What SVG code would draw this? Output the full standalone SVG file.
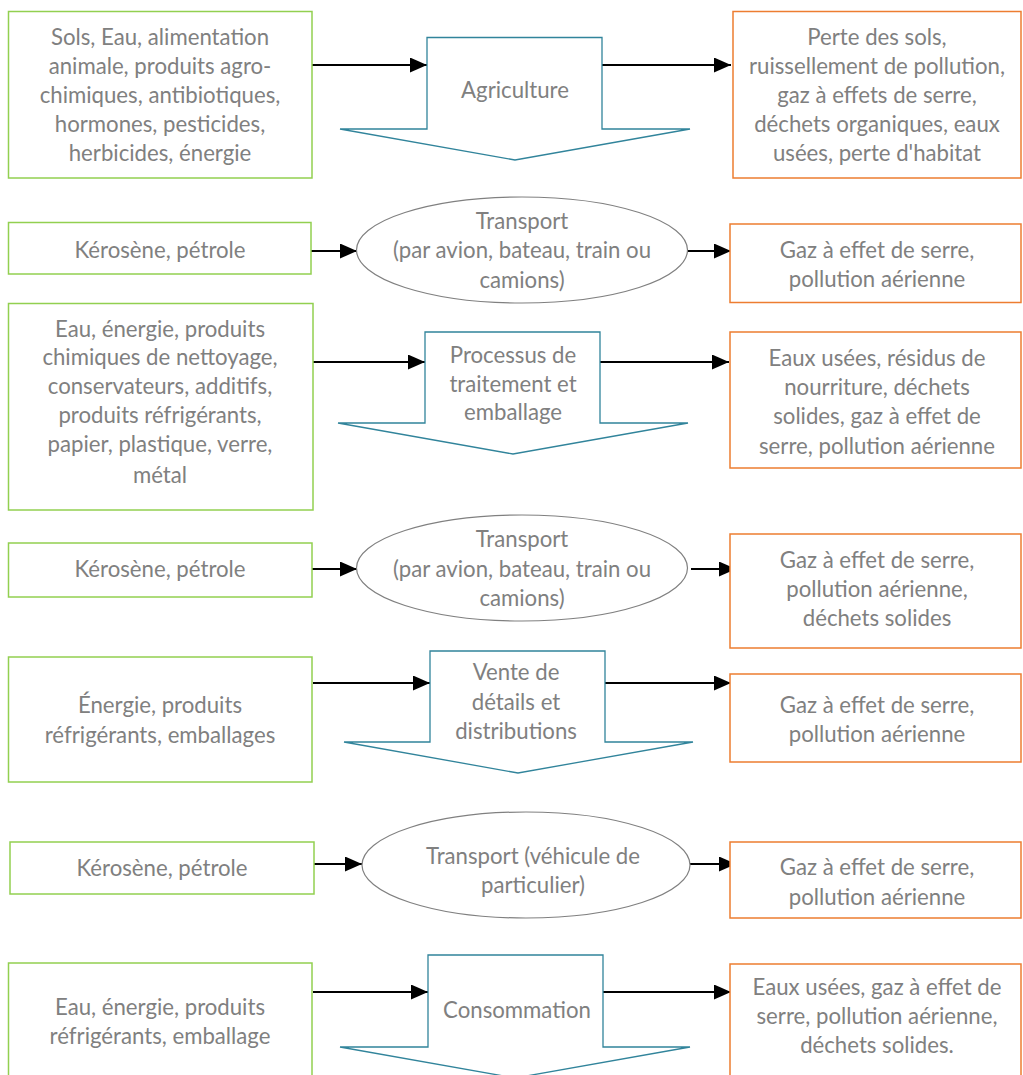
<svg xmlns="http://www.w3.org/2000/svg" width="1023" height="1075" viewBox="0 0 1023 1075">
<defs>
<marker id="ah" markerUnits="userSpaceOnUse" markerWidth="18" markerHeight="16" refX="17" refY="7.5" orient="auto">
<path d="M0,0 L17,7.5 L0,15 Z" fill="#000"/>
</marker>
<style>
.in{fill:#fff;stroke:#92d050;stroke-width:1.5}
.out{fill:#fff;stroke:#ed7d31;stroke-width:1.5}
.proc{fill:#fff;stroke:#31849b;stroke-width:1.3}
.ell{fill:#fff;stroke:#808080;stroke-width:1.2}
.t{font-family:Lato,"Open Sans","Liberation Sans",sans-serif;font-size:22.2px;fill:#808080;text-anchor:middle}
.c{stroke:#000;stroke-width:2;fill:none;marker-end:url(#ah)}
</style>
</defs>
<rect width="1023" height="1075" fill="#fff"/>
<g id="connectors">
<line class="c" x1="312" y1="65" x2="427" y2="65"/>
<line class="c" x1="602" y1="65" x2="731" y2="65"/>
<line class="c" x1="311" y1="251" x2="357" y2="251"/>
<line class="c" x1="688" y1="251" x2="731" y2="251"/>
<line class="c" x1="313" y1="362" x2="425" y2="362"/>
<line class="c" x1="600" y1="362" x2="729" y2="362"/>
<line class="c" x1="312" y1="569" x2="357" y2="569"/>
<line class="c" x1="691" y1="569" x2="736" y2="569"/>
<line class="c" x1="313" y1="683" x2="430" y2="683"/>
<line class="c" x1="605" y1="683" x2="731" y2="683"/>
<line class="c" x1="314" y1="864" x2="362" y2="864"/>
<line class="c" x1="690" y1="864" x2="736" y2="864"/>
<line class="c" x1="313" y1="992" x2="428" y2="992"/>
<line class="c" x1="603" y1="992" x2="731" y2="992"/>
</g>
<g id="in1"><rect class="in" x="8.5" y="11.5" width="303.5" height="166.5"/>
<text class="t" x="160"><tspan x="160" y="45">Sols, Eau, alimentation</tspan><tspan x="160" y="74">animale, produits agro-</tspan><tspan x="160" y="103">chimiques, antibiotiques,</tspan><tspan x="160" y="132">hormones, pesticides,</tspan><tspan x="160" y="161">herbicides, énergie</tspan></text></g>
<g id="p1"><path class="proc" d="M427,37.5 H602 V129 H690 L515,160 L340,129 H427 Z"/>
<text class="t" x="515" y="98">Agriculture</text></g>
<g id="out1"><rect class="out" x="733" y="11.5" width="288" height="166.5"/>
<text class="t"><tspan x="877" y="45">Perte des sols,</tspan><tspan x="877" y="74">ruissellement de pollution,</tspan><tspan x="877" y="103">gaz à effets de serre,</tspan><tspan x="877" y="132">déchets organiques, eaux</tspan><tspan x="877" y="161">usées, perte d'habitat</tspan></text></g>

<g id="in2"><rect class="in" x="8.5" y="222.5" width="302.5" height="51.5"/>
<text class="t" x="160" y="258">Kérosène, pétrole</text></g>
<g id="t1"><ellipse class="ell" cx="522" cy="250" rx="165.5" ry="53"/>
<text class="t"><tspan x="522" y="229">Transport</tspan><tspan x="522" y="258">(par avion, bateau, train ou</tspan><tspan x="522" y="288">camions)</tspan></text></g>
<g id="out2"><rect class="out" x="730" y="224" width="291" height="78.5"/>
<text class="t"><tspan x="877" y="258">Gaz à effet de serre,</tspan><tspan x="877" y="287">pollution aérienne</tspan></text></g>

<g id="in3"><rect class="in" x="8.5" y="303.5" width="304.5" height="206.5"/>
<text class="t"><tspan x="160" y="337">Eau, énergie, produits</tspan><tspan x="160" y="365">chimiques de nettoyage,</tspan><tspan x="160" y="394">conservateurs, additifs,</tspan><tspan x="160" y="423">produits réfrigérants,</tspan><tspan x="160" y="452">papier, plastique, verre,</tspan><tspan x="160" y="483">métal</tspan></text></g>
<g id="p2"><path class="proc" d="M425,332 H600 V423 H688 L513,454 L338,423 H425 Z"/>
<text class="t"><tspan x="513" y="363">Processus de</tspan><tspan x="513" y="392">traitement et</tspan><tspan x="513" y="420">emballage</tspan></text></g>
<g id="out3"><rect class="out" x="730" y="332" width="291" height="136"/>
<text class="t"><tspan x="877" y="366">Eaux usées, résidus de</tspan><tspan x="877" y="395">nourriture, déchets</tspan><tspan x="877" y="424">solides, gaz à effet de</tspan><tspan x="877" y="454">serre, pollution aérienne</tspan></text></g>

<g id="in4"><rect class="in" x="8.5" y="543" width="303.5" height="54"/>
<text class="t" x="160" y="577">Kérosène, pétrole</text></g>
<g id="t2"><ellipse class="ell" cx="522" cy="568" rx="165.5" ry="53"/>
<text class="t"><tspan x="522" y="547">Transport</tspan><tspan x="522" y="577">(par avion, bateau, train ou</tspan><tspan x="522" y="606">camions)</tspan></text></g>
<g id="out4"><rect class="out" x="730" y="534" width="291" height="114"/>
<text class="t"><tspan x="877" y="568">Gaz à effet de serre,</tspan><tspan x="877" y="597">pollution aérienne,</tspan><tspan x="877" y="626">déchets solides</tspan></text></g>

<g id="in5"><rect class="in" x="8.5" y="657" width="303.5" height="125"/>
<text class="t"><tspan x="160" y="713">Énergie, produits</tspan><tspan x="160" y="743">réfrigérants, emballages</tspan></text></g>
<g id="p3"><path class="proc" d="M430,651 H605 V742 H693 L518,773 L344,742 H430 Z"/>
<text class="t"><tspan x="516" y="680">Vente de</tspan><tspan x="516" y="710">détails et</tspan><tspan x="516" y="739">distributions</tspan></text></g>
<g id="out5"><rect class="out" x="730" y="674" width="291" height="88"/>
<text class="t"><tspan x="877" y="713">Gaz à effet de serre,</tspan><tspan x="877" y="742">pollution aérienne</tspan></text></g>

<g id="in6"><rect class="in" x="10" y="842" width="304" height="52"/>
<text class="t" x="162" y="876">Kérosène, pétrole</text></g>
<g id="t3"><ellipse class="ell" cx="526" cy="865" rx="164" ry="53"/>
<text class="t"><tspan x="533" y="864">Transport (véhicule de</tspan><tspan x="533" y="893">particulier)</tspan></text></g>
<g id="out6"><rect class="out" x="730" y="842" width="291" height="76"/>
<text class="t"><tspan x="877" y="875">Gaz à effet de serre,</tspan><tspan x="877" y="905">pollution aérienne</tspan></text></g>

<g id="in7"><rect class="in" x="8.5" y="963" width="303.5" height="130"/>
<text class="t"><tspan x="160" y="1015">Eau, énergie, produits</tspan><tspan x="160" y="1044">réfrigérants, emballage</tspan></text></g>
<g id="p4"><path class="proc" d="M428,955 H603 V1047 H690 L515,1078 L340,1047 H428 Z"/>
<text class="t" x="517" y="1018">Consommation</text></g>
<g id="out7"><rect class="out" x="730" y="964" width="291" height="130"/>
<text class="t"><tspan x="877" y="995">Eaux usées, gaz à effet de</tspan><tspan x="877" y="1024">serre, pollution aérienne,</tspan><tspan x="877" y="1053">déchets solides.</tspan></text></g>
</svg>
